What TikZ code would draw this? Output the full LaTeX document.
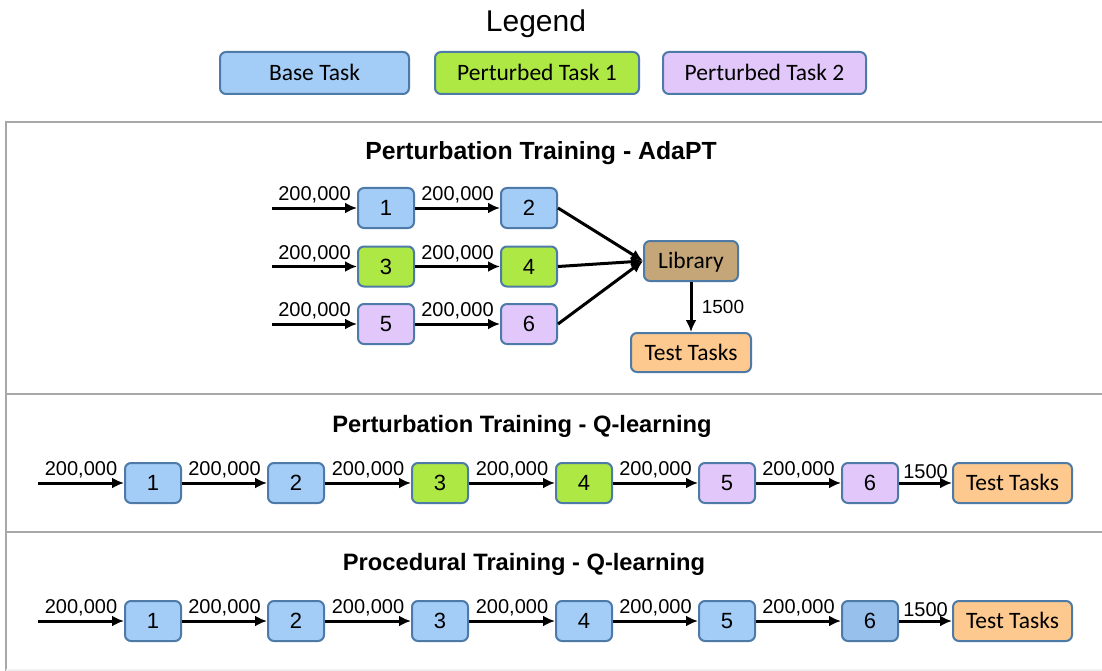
\documentclass[tikz,border=0pt]{standalone}
\usepackage{fontspec}
\setmainfont{Liberation Sans}
\newfontfamily\calibri{Carlito}
\usetikzlibrary{arrows.meta,positioning}

\definecolor{taskedge}{HTML}{4D7AA6}
\definecolor{basefill}{HTML}{A3CCF7}
\definecolor{darkbase}{HTML}{97C0EC}
\definecolor{greenfill}{HTML}{AEE844}
\definecolor{lilacfill}{HTML}{E2C8FA}
\definecolor{libfill}{HTML}{C4A679}
\definecolor{testfill}{HTML}{FDC98F}
\definecolor{panelgray}{HTML}{A8A8A8}

\begin{document}
\begin{tikzpicture}[
    x=1pt,
    y=-1pt,
    >=Latex,
    task/.style={
        draw=taskedge,
        line width=2pt,
        rounded corners=6pt,
        minimum width=56pt,
        minimum height=40pt,
        inner sep=0pt,
        font=\fontsize{22}{26}\selectfont
    },
    wordbox/.style={
        task,
        text height=15pt,
        text depth=0pt,
        font=\calibri\fontsize{23.5}{28}\selectfont
    },
    flow/.style={
        -{Latex[length=12pt,width=11pt]},
        line width=3pt
    },
    count/.style={
        above=2pt,
        inner sep=1pt,
        font=\fontsize{20}{24}\selectfont
    },
    heading/.style={
        font=\bfseries\fontsize{23.7}{28}\selectfont
    },
    panel/.style={
        draw=panelgray,
        line width=2pt
    }
]

\useasboundingbox (0,0) rectangle (1102,671);

% ---------------------------------------------------------
% Legend
% ---------------------------------------------------------

\node[font=\fontsize{30}{36}\selectfont] (legend) at (536,24) {Legend};

\node[wordbox,fill=basefill,minimum width=189pt,minimum height=42pt]
    (keybase) at (314.5,73) {Base Task};

\node[wordbox,fill=greenfill,minimum width=204pt,minimum height=42pt]
    (keyone) at (537,73) {Perturbed Task 1};

\node[wordbox,fill=lilacfill,minimum width=203pt,minimum height=42pt]
    (keytwo) at (764.5,73) {Perturbed Task 2};

% ---------------------------------------------------------
% Panel frames
% ---------------------------------------------------------

\draw[panel] (1102,122) -- (6,122) -- (6,671);
\draw[panel] (6,394) -- (1102,394);
\draw[panel] (6,532) -- (1102,532);
\draw[panel,draw=gray!12] (6,670) -- (1102,670);

% ---------------------------------------------------------
% Perturbation Training - AdaPT
% ---------------------------------------------------------

\node[heading,font=\bfseries\fontsize{24.8}{29}\selectfont] (adapt) at (541,153)
    {Perturbation Training - AdaPT};

\node[wordbox,fill=libfill,minimum width=94pt] (lib) at (691,261) {Library};

\node[wordbox,fill=testfill,minimum width=120pt,minimum height=39pt]
    (atest) at (691,352.5) {Test Tasks};

\foreach \r/\y/\fc/\na/\nb in {
    1/208/basefill/1/2,
    2/266.5/greenfill/3/4,
    3/324/lilacfill/5/6}{
    \coordinate (ain\r) at (272,\y);
    \node[task,fill=\fc] (aleft\r) at (386,\y) {\na};
    \node[task,fill=\fc] (aright\r) at (529,\y) {\nb};

    \draw[flow] (ain\r) -- node[count] {200,000} (aleft\r);
    \draw[flow] (aleft\r) -- node[count] {200,000} (aright\r);
    \draw[flow] (aright\r.east) -- (lib.west);
}

\draw[flow] (lib) -- node[midway,right=6pt,font=\fontsize{19}{22}\selectfont] {1500} (atest);

% ---------------------------------------------------------
% Perturbation Training - Q-learning
% ---------------------------------------------------------

\node[heading] (qperturb) at (522,426) {Perturbation Training - Q-learning};

\coordinate (qin) at (38,483);

\foreach \i/\x/\fc in {
    1/153/basefill,
    2/296/basefill,
    3/440/greenfill,
    4/584/greenfill,
    5/727/lilacfill,
    6/870/lilacfill}{
    \node[task,fill=\fc] (q\i) at (\x,483) {\i};
}

\node[wordbox,fill=testfill,minimum width=119pt] (qtest) at (1012.5,483) {Test Tasks};

\draw[flow] (qin) -- node[count] {200,000} (q1);
\foreach \i [count=\j from 2] in {1,...,5}{
    \draw[flow] (q\i) -- node[count] {200,000} (q\j);
}
\draw[flow] (q6) -- node[count] {1500} (qtest);

% ---------------------------------------------------------
% Procedural Training - Q-learning
% ---------------------------------------------------------

\node[heading] (qproc) at (524,564) {Procedural Training - Q-learning};

\coordinate (pin) at (38,621);

\foreach \i/\x/\fc in {
    1/153/basefill,
    2/296/basefill,
    3/440/basefill,
    4/584/basefill,
    5/727/basefill,
    6/870/darkbase}{
    \node[task,fill=\fc] (p\i) at (\x,621) {\i};
}

\node[wordbox,fill=testfill,minimum width=119pt] (ptest) at (1012.5,621) {Test Tasks};

\draw[flow] (pin) -- node[count] {200,000} (p1);
\foreach \i [count=\j from 2] in {1,...,5}{
    \draw[flow] (p\i) -- node[count] {200,000} (p\j);
}
\draw[flow] (p6) -- node[count] {1500} (ptest);

\end{tikzpicture}
\end{document}
